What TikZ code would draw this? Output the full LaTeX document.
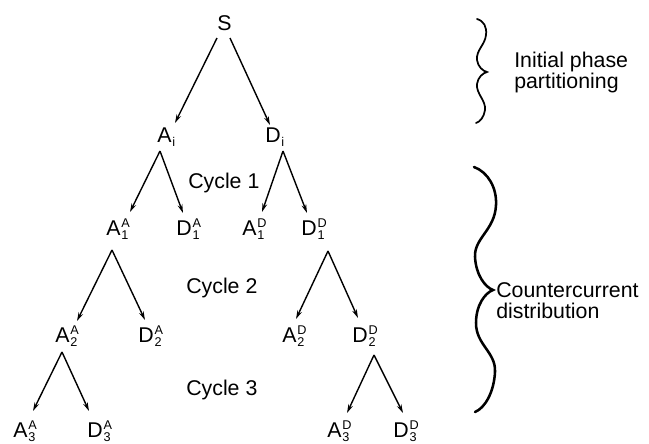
\documentclass[tikz,border=0pt]{standalone}
\usepackage{fontspec}
\setmainfont{Liberation Sans}
\usetikzlibrary{calc,arrows.meta}
\newcommand\scrfont{\fontsize{9.5}{7.6}\selectfont}
\newcommand\supsub[2]{\kern0.7pt\raisebox{-3pt}{\scrfont\setlength{\tabcolsep}{0pt}\renewcommand{\arraystretch}{1}\begin{tabular}[b]{l}#1\\#2\end{tabular}}}
\newcommand\subonly[1]{\kern0.6pt\raisebox{-3pt}{\scrfont #1}}
\tikzset{
  lbl/.style={anchor=base west, inner sep=0pt, font=\fontsize{16}{19}\selectfont},
  arr/.style={-{Stealth[length=6.5pt,width=3.6pt]}, line width=1.05pt},
  brace/.style={line width=1.3pt, line cap=round},
  bigbrace/.style={line width=1.9pt, line cap=round}
}
\begin{document}
\begin{tikzpicture}[x=0.75pt,y=-0.75pt]
\useasboundingbox (0,0) rectangle (649,443);
% nodes
\node[lbl] (S) at (217,30) {S};
\node[lbl] (Ai) at (157,142) {A\subonly{i}};
\node[lbl] (Di) at (265,142) {D\subonly{i}};
\node[lbl] (A1A) at (106,235) {A\supsub{A}{1}};
\node[lbl] (D1A) at (176,235) {D\supsub{A}{1}};
\node[lbl] (A1D) at (242,235) {A\supsub{D}{1}};
\node[lbl] (D1D) at (301,235) {D\supsub{D}{1}};
\node[lbl] (A2A) at (55,342) {A\supsub{A}{2}};
\node[lbl] (D2A) at (138,342) {D\supsub{A}{2}};
\node[lbl] (A2D) at (282,342) {A\supsub{D}{2}};
\node[lbl] (D2D) at (352,342) {D\supsub{D}{2}};
\node[lbl] (A3A) at (13,437) {A\supsub{A}{3}};
\node[lbl] (D3A) at (87,437) {D\supsub{A}{3}};
\node[lbl] (A3D) at (327,437) {A\supsub{D}{3}};
\node[lbl] (D3D) at (393,437) {D\supsub{D}{3}};
\node[lbl] (c1) at (188,188) {Cycle 1};
\node[lbl] (c2) at (186,293) {Cycle 2};
\node[lbl] (c3) at (186,395) {Cycle 3};
\node[lbl] (ip1) at (514,67) {Initial phase};
\node[lbl] (ip2) at (514,88) {partitioning};
\node[lbl] (cc1) at (496,297) {Countercurrent};
\node[lbl] (cc2) at (496,318) {distribution};
% connectors
\draw[arr] ($(S.base west)+(0,8)$) -- ($(Ai.base west)+(18,-19)$);
\draw[arr] ($(S.base west)+(13,8)$) -- ($(Di.base west)+(5,-17)$);
\draw[arr] ($(Ai.base west)+(3,9)$) -- ($(A1A.base west)+(24,-23)$);
\draw[arr] ($(Ai.base west)+(3,9)$) -- ($(D1A.base west)+(7,-22)$);
\draw[arr] ($(Di.base west)+(18,9)$) -- ($(A1D.base west)+(20,-23)$);
\draw[arr] ($(Di.base west)+(18,9)$) -- ($(D1D.base west)+(6,-22)$);
\draw[arr] ($(A1A.base west)+(6,15)$) -- ($(A2A.base west)+(22,-21)$);
\draw[arr] ($(A1A.base west)+(6,15)$) -- ($(D2A.base west)+(7,-22)$);
\draw[arr] ($(D1D.base west)+(27,16)$) -- ($(A2D.base west)+(14,-23)$);
\draw[arr] ($(D1D.base west)+(27,16)$) -- ($(D2D.base west)+(6,-24)$);
\draw[arr] ($(A2A.base west)+(7,10)$) -- ($(A3A.base west)+(20,-26)$);
\draw[arr] ($(A2A.base west)+(7,10)$) -- ($(D3A.base west)+(2,-26)$);
\draw[arr] ($(D2D.base west)+(22,13)$) -- ($(A3D.base west)+(20,-24)$);
\draw[arr] ($(D2D.base west)+(22,13)$) -- ($(D3D.base west)+(10,-24)$);
% braces
\draw[brace] (477,19) .. controls (484,21) and (487,27) .. (486,35)
  .. controls (485,45) and (476,50) .. (477,60)
  .. controls (478,67) and (483,71) .. (487,72)
  .. controls (483,73) and (478,77) .. (477,84)
  .. controls (476,94) and (486,100) .. (485,110)
  .. controls (484,117) and (480,122) .. (476,123);
\draw[bigbrace] (474,167) .. controls (488,172) and (497,188) .. (496,205)
  .. controls (495,230) and (474,238) .. (475,257)
  .. controls (476,275) and (485,287) .. (493,290)
  .. controls (485,293) and (476,305) .. (476,323)
  .. controls (476,345) and (496,352) .. (495,372)
  .. controls (494,392) and (485,408) .. (475,412);
\end{tikzpicture}
\end{document}
